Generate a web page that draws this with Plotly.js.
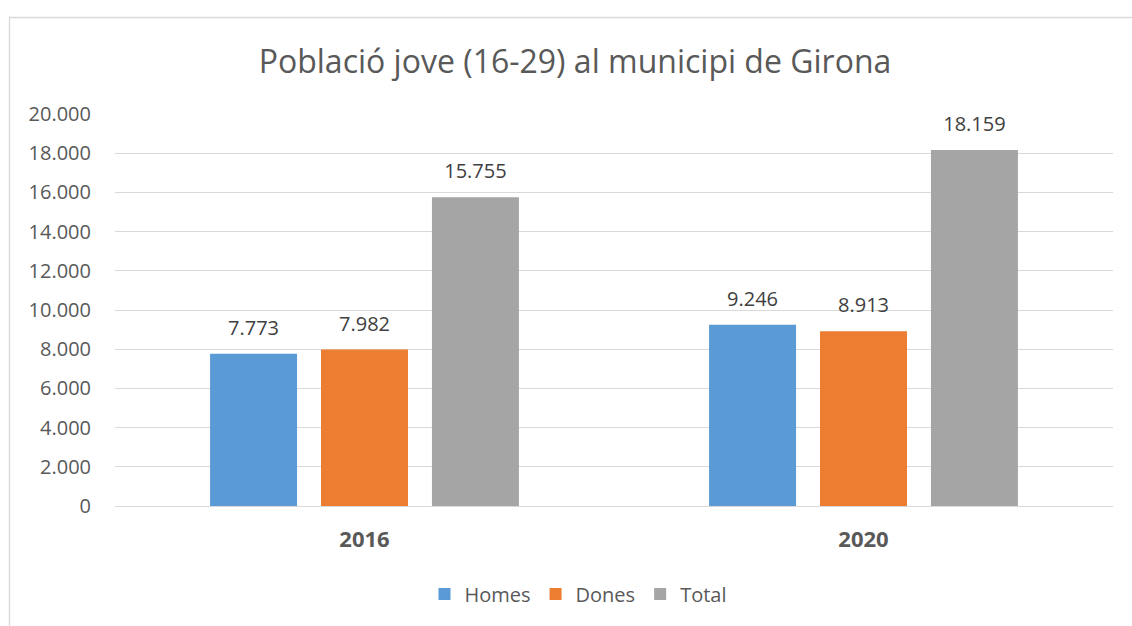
<!DOCTYPE html>
<html>
<head>
<meta charset="utf-8">
<script src="https://cdn.plot.ly/plotly-3.0.1.min.js"></script>
<style>
html,body{margin:0;padding:0;background:#fff;}
#chart{width:1132px;height:626px;}
</style>
</head>
<body>
<div id="chart"></div>
<script>
const categories = ["2016", "2020"];
const seriesNames = ["Homes", "Dones", "Total"];
const homes = [7773, 9246];
const dones = [7982, 8913];
const total = [15755, 18159];
const yTicks = [0, 2000, 4000, 6000, 8000, 10000, 12000, 14000, 16000, 18000, 20000];
const colors = ["#5B9BD5", "#ED7D31", "#A5A5A5"];

const values = [homes, dones, total];
const traces = seriesNames.map((name, i) => ({
  type: "bar",
  name: name,
  x: categories,
  y: values[i],
  marker: {color: colors[i]},
  texttemplate: "<span style='font-size:20px'>%{y:,}</span><br> ",
  textposition: "outside",
  constraintext: "none",
  cliponaxis: false,
  textfont: {family: "Open Sans", size: 10, color: "#404040"},
  hoverinfo: "skip"
}));

const W = 1132, H = 626;
const m = {l: 115, r: 19, t: 114, b: 120};
const pw = W - m.l - m.r, ph = H - m.t - m.b;
const px = v => (v - m.l) / pw;
const py = v => (H - m.b - v) / ph;

const layout = {
  width: W, height: H,
  margin: m,
  separators: ",.",
  paper_bgcolor: "#ffffff",
  plot_bgcolor: "#ffffff",
  font: {family: "Open Sans", color: "#595959"},
  title: {
    text: "Població jove (16-29) al municipi de Girona",
    font: {family: "Open Sans", size: 32, color: "#595959"},
    x: px(575), xanchor: "center", xref: "paper",
    y: 1 - 62 / H, yanchor: "middle"
  },
  barmode: "group",
  bargap: 0.333,
  bargroupgap: 0.216,
  xaxis: {
    type: "category",
    showgrid: false,
    showline: false,
    ticks: "outside",
    ticklen: 14,
    tickcolor: "rgba(0,0,0,0)",
    tickfont: {family: "Open Sans", size: 22, color: "#595959", weight: "bold"},
    fixedrange: true
  },
  yaxis: {
    range: [0, 20000],
    tickvals: yTicks,
    tickformat: ",d",
    showgrid: true,
    gridcolor: "#d9d9d9",
    gridwidth: 1,
    zeroline: true,
    zerolinecolor: "#d9d9d9",
    zerolinewidth: 1,
    showline: false,
    ticks: "outside",
    ticklen: 19,
    tickcolor: "rgba(0,0,0,0)",
    tickfont: {family: "Open Sans", size: 20, color: "#595959"},
    fixedrange: true
  },
  legend: {
    orientation: "h",
    x: px(578), xanchor: "center",
    y: py(594), yanchor: "middle",
    font: {family: "Open Sans", size: 20, color: "#595959"},
    itemwidth: 30,
    traceorder: "normal"
  },
  shapes: [{
    type: "path",
    xref: "paper", yref: "paper",
    path: `M ${px(9.5)} ${py(640)} L ${px(9.5)} ${py(17.5)} L ${px(1140)} ${py(17.5)}`,
    line: {color: "#d9d9d9", width: 1.3}
  }],
  showlegend: true
};

Plotly.newPlot("chart", traces, layout, {displayModeBar: false, staticPlot: true});
</script>
</body>
</html>
